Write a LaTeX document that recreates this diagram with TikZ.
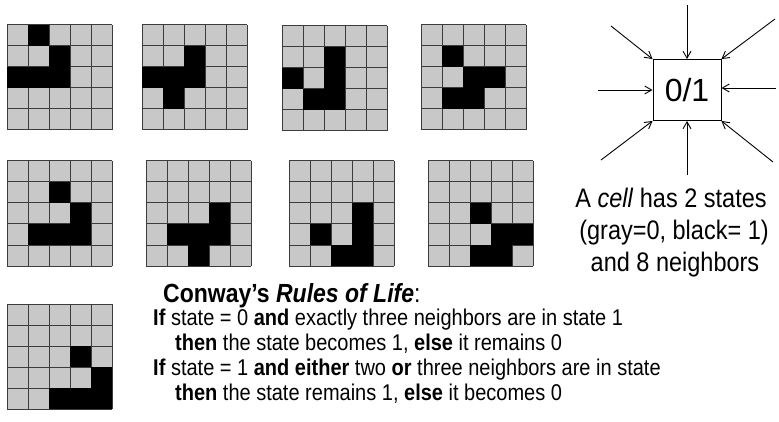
\documentclass[tikz,border=0pt]{standalone}
\usepackage{fontspec}
\usepackage{graphicx}
\setmainfont{Liberation Sans}
\usetikzlibrary{arrows.meta}
\definecolor{cellgray}{HTML}{C8C8C8}
\definecolor{gridcol}{HTML}{3C3C3C}
\newcommand{\lifegrid}[3]{%
  \begin{scope}[shift={(#1,#2)}]
    \fill[cellgray] (0,0) rectangle (105,105);
    \foreach \k in {0,21,...,105} {
      \draw[gridline] (\k,0) -- (\k,105);
      \draw[gridline] (0,\k) -- (105,\k);
    }
    \foreach \c/\r in {#3} \fill[black] (\c*21,\r*21) rectangle ++(21,21);
  \end{scope}}
\newcommand{\tall}[1]{\scalebox{1}[1.14]{#1}}
\begin{document}
\begin{tikzpicture}[x=1pt,y=-1pt,
  gridline/.style={draw=gridcol,line width=1pt},
  inarrow/.style={-{Straight Barb[length=7pt,width=8pt]},line width=0.9pt},
  rule/.style={anchor=base west,inner sep=0pt,font=\fontsize{20}{24}\selectfont},
  caption/.style={anchor=base,inner sep=0pt,font=\fontsize{23.5}{28}\selectfont}]
\useasboundingbox (0,0) rectangle (779,422);
\lifegrid{7}{25}{1/0,2/1,0/2,1/2,2/2}
\lifegrid{142}{25}{2/1,0/2,1/2,2/2,1/3}
\lifegrid{282}{26}{2/1,0/2,2/2,1/3,2/3}
\lifegrid{421}{25}{1/1,2/2,3/2,1/3,2/3}
\lifegrid{7}{161}{2/1,3/2,1/3,2/3,3/3}
\lifegrid{146}{161}{3/2,1/3,2/3,3/3,2/4}
\lifegrid{289}{161}{3/2,1/3,3/3,2/4,3/4}
\lifegrid{428}{161}{2/2,3/3,4/3,2/4,3/4}
\lifegrid{7}{304}{3/2,4/3,2/4,3/4,4/4}
% cell
\node[draw,line width=0.9pt,minimum width=68pt,minimum height=61pt,inner sep=0pt,font=\fontsize{32}{34}\selectfont] (cell) at (687,90) {0/1};
\coordinate (nT) at (687,5);
\coordinate (nTL) at (611,26);
\coordinate (nTR) at (775,19);
\coordinate (nL) at (598,90);
\coordinate (nR) at (776,88);
\coordinate (nBL) at (601,160);
\coordinate (nB) at (687,175);
\coordinate (nBR) at (773,162);
\draw[inarrow] (nT) -- (cell.north);
\draw[inarrow] (nTL) -- (cell.north west);
\draw[inarrow] (nTR) -- (cell.north east);
\draw[inarrow] (nL) -- (cell.west);
\draw[inarrow] (nR) -- (cell.east |- nR);
\draw[inarrow] (nBL) -- (cell.south west);
\draw[inarrow] (nB) -- (cell.south);
\draw[inarrow] (nBR) -- (cell.south east);
% caption
\node[caption] (cap1) at (671,208) {\tall{A \textit{cell} has 2 states}};
\node[caption] (cap2) at (674,240) {\tall{(gray=0, black= 1)}};
\node[caption] (cap3) at (675,271) {\tall{and 8 neighbors}};
% rules
\node[anchor=base west,inner sep=0pt,font=\fontsize{23}{28}\selectfont] (title) at (163,302) {\tall{\textbf{Conway's \textit{Rules of Life}}:}};
\node[rule] (r1) at (153,325) {\tall{\textbf{If} state = 0 \textbf{and} exactly three neighbors are in state 1}};
\node[rule] (r2) at (175,350) {\tall{\textbf{then} the state becomes 1, \textbf{else} it remains 0}};
\node[rule] (r3) at (153,375) {\tall{\textbf{If} state = 1 \textbf{and either} two \textbf{or} three neighbors are in state}};
\node[rule] (r4) at (175,400) {\tall{\textbf{then} the state remains 1, \textbf{else} it becomes 0}};
\end{tikzpicture}
\end{document}
